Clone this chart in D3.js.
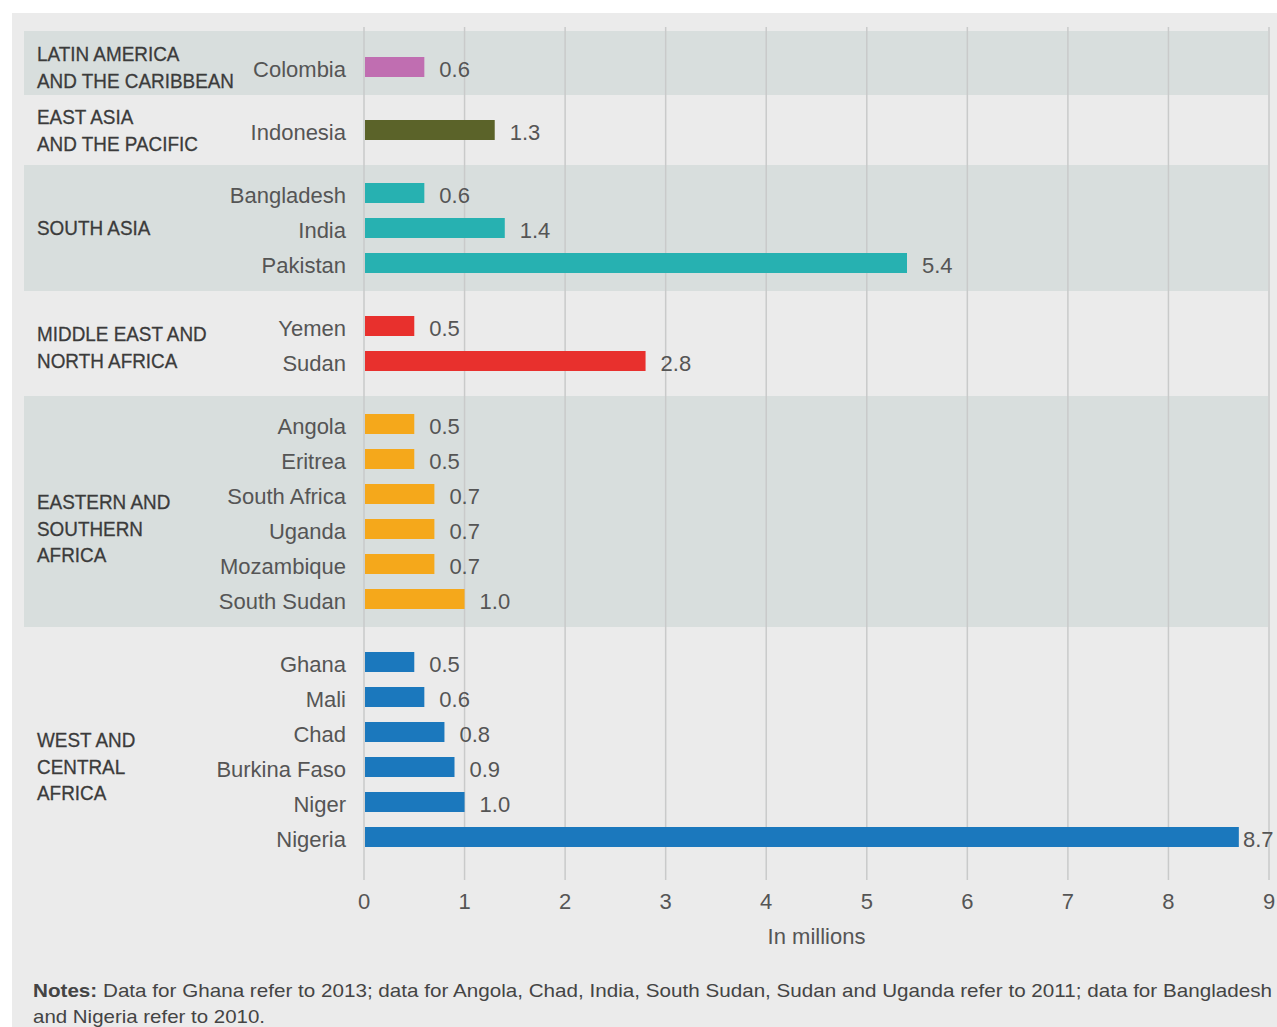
<!DOCTYPE html>
<html>
<head>
<meta charset="utf-8">
<script src="https://cdn.jsdelivr.net/npm/d3@7"></script>
<style>
  html, body { margin: 0; padding: 0; background: #fff; }
  svg { display: block; font-family: "Liberation Sans", Arial, sans-serif; }
</style>
</head>
<body>
<div id="chart"></div>
<script>
// regions, top to bottom (each is one shaded / unshaded band)
const regions = [
    ["LATIN AMERICA", "AND THE CARIBBEAN"],
    ["EAST ASIA", "AND THE PACIFIC"],
    ["SOUTH ASIA"],
    ["MIDDLE EAST AND", "NORTH AFRICA"],
    ["EASTERN AND", "SOUTHERN", "AFRICA"],
    ["WEST AND", "CENTRAL", "AFRICA"]
];
const regionColors = ["#c06eb1", "#5b6329", "#27b1b1", "#e8302d", "#f5a81b", "#1b78bd"];

const countries = [
    ["Colombia"],
    ["Indonesia"],
    ["Bangladesh", "India", "Pakistan"],
    ["Yemen", "Sudan"],
    ["Angola", "Eritrea", "South Africa", "Uganda", "Mozambique", "South Sudan"],
    ["Ghana", "Mali", "Chad", "Burkina Faso", "Niger", "Nigeria"]
];
const values = [
    [0.6],
    [1.3],
    [0.6, 1.4, 5.4],
    [0.5, 2.8],
    [0.5, 0.5, 0.7, 0.7, 0.7, 1.0],
    [0.5, 0.6, 0.8, 0.9, 1.0, 8.7]
];
const xTicks = [0, 1, 2, 3, 4, 5, 6, 7, 8, 9];
const axisTitle = "In millions";
const notes = [
    "Data for Ghana refer to 2013; data for Angola, Chad, India, South Sudan, Sudan and Uganda refer to 2011; data for Bangladesh",
    "and Nigeria refer to 2010."
];

const W = 1277, H = 1027;

// flatten into rows; slot adds an extra gap between regions
const rows = [];
let idx = 0;
countries.forEach((list, g) => {
    list.forEach((c, k) => {
        rows.push({ country: c, value: values[g][k], group: g, slot: idx + g * 0.8 });
        idx++;
    });
});

const svg = d3.select("#chart").append("svg")
    .attr("width", W)
    .attr("height", H);

// panel
svg.append("rect")
    .attr("x", 12).attr("y", 13)
    .attr("width", W - 12).attr("height", H - 13)
    .attr("fill", "#ebebeb");

const x = d3.scaleLinear().domain([0, 9]).range([364, 1269]);
const y = d3.scaleLinear().domain([0, 1]).range([67, 102]);
const barH = 20;
const plotTop = 31;

const groups = regions.map((lines, g) => {
    const r = rows.filter(d => d.group === g);
    const first = y(r[0].slot), last = y(r[r.length - 1].slot);
    return { g, lines, first, last, n: r.length };
});

// shaded bands for every other region
svg.append("g").selectAll("rect")
    .data(groups.filter(d => d.g % 2 === 0))
    .join("rect")
    .attr("x", 24)
    .attr("y", d => d.g === 0 ? plotTop : d.first - 28)
    .attr("width", 1268 - 24)
    .attr("height", d => (d.last + 28) - (d.g === 0 ? plotTop : d.first - 28))
    .attr("fill", "#d8dedd");

// gridlines
svg.append("g").selectAll("line")
    .data(xTicks)
    .join("line")
    .attr("x1", d => x(d)).attr("x2", d => x(d))
    .attr("y1", 27).attr("y2", 880)
    .attr("stroke", "#c9caca")
    .attr("stroke-width", 1.5);

// tick labels
svg.append("g").selectAll("text")
    .data(xTicks)
    .join("text")
    .attr("x", d => x(d))
    .attr("y", 909)
    .attr("text-anchor", "middle")
    .attr("font-size", 22)
    .attr("fill", "#555")
    .text(d => d);

svg.append("text")
    .attr("x", x(4.5))
    .attr("y", 944)
    .attr("text-anchor", "middle")
    .attr("font-size", 22)
    .attr("fill", "#555")
    .text(axisTitle);

// bars
svg.append("g").selectAll("rect")
    .data(rows)
    .join("rect")
    .attr("x", x(0) + 1)
    .attr("y", d => y(d.slot) - barH / 2)
    .attr("width", d => x(d.value) - x(0) - 1)
    .attr("height", barH)
    .attr("fill", d => regionColors[d.group]);

// country labels
svg.append("g").selectAll("text")
    .data(rows)
    .join("text")
    .attr("x", 346)
    .attr("y", d => y(d.slot) + 9.5)
    .attr("text-anchor", "end")
    .attr("font-size", 22)
    .attr("fill", "#555")
    .text(d => d.country);

// value labels
svg.append("g").selectAll("text")
    .data(rows)
    .join("text")
    .attr("x", d => Math.min(x(d.value) + 15, 1243))
    .attr("y", d => y(d.slot) + 9.5)
    .attr("font-size", 22)
    .attr("fill", "#555")
    .text(d => d3.format(".1f")(d.value));

// region labels (slightly condensed caps)
const lineH = 26.5;
const sx = 0.9;
const regionG = svg.append("g").attr("transform", `scale(${sx},1)`);
groups.forEach(d => {
    const k = d.lines.length;
    const mid = (d.first + d.last) / 2 + (k > 1 ? (d.n - 1) * 3.4 : 0);
    const t = regionG.append("text")
        .attr("font-size", 21)
        .attr("fill", "#3b3b3b")
        .attr("stroke", "#3b3b3b")
        .attr("stroke-width", 0.3);
    d.lines.forEach((l, i) => {
        t.append("tspan")
            .attr("x", 37 / sx)
            .attr("y", mid - (k - 1) * lineH / 2 + i * lineH + 7.5)
            .text(l);
    });
});

// notes
const n1 = svg.append("text")
    .attr("x", 33).attr("y", 997)
    .attr("font-size", 19)
    .attr("fill", "#444")
    .attr("textLength", 1239)
    .attr("lengthAdjust", "spacingAndGlyphs");
n1.append("tspan").attr("font-weight", "bold").text("Notes: ");
n1.append("tspan").text(notes[0]);

svg.append("text")
    .attr("x", 33).attr("y", 1023)
    .attr("font-size", 19)
    .attr("fill", "#444")
    .attr("textLength", 232)
    .attr("lengthAdjust", "spacingAndGlyphs")
    .text(notes[1]);
</script>
</body>
</html>
